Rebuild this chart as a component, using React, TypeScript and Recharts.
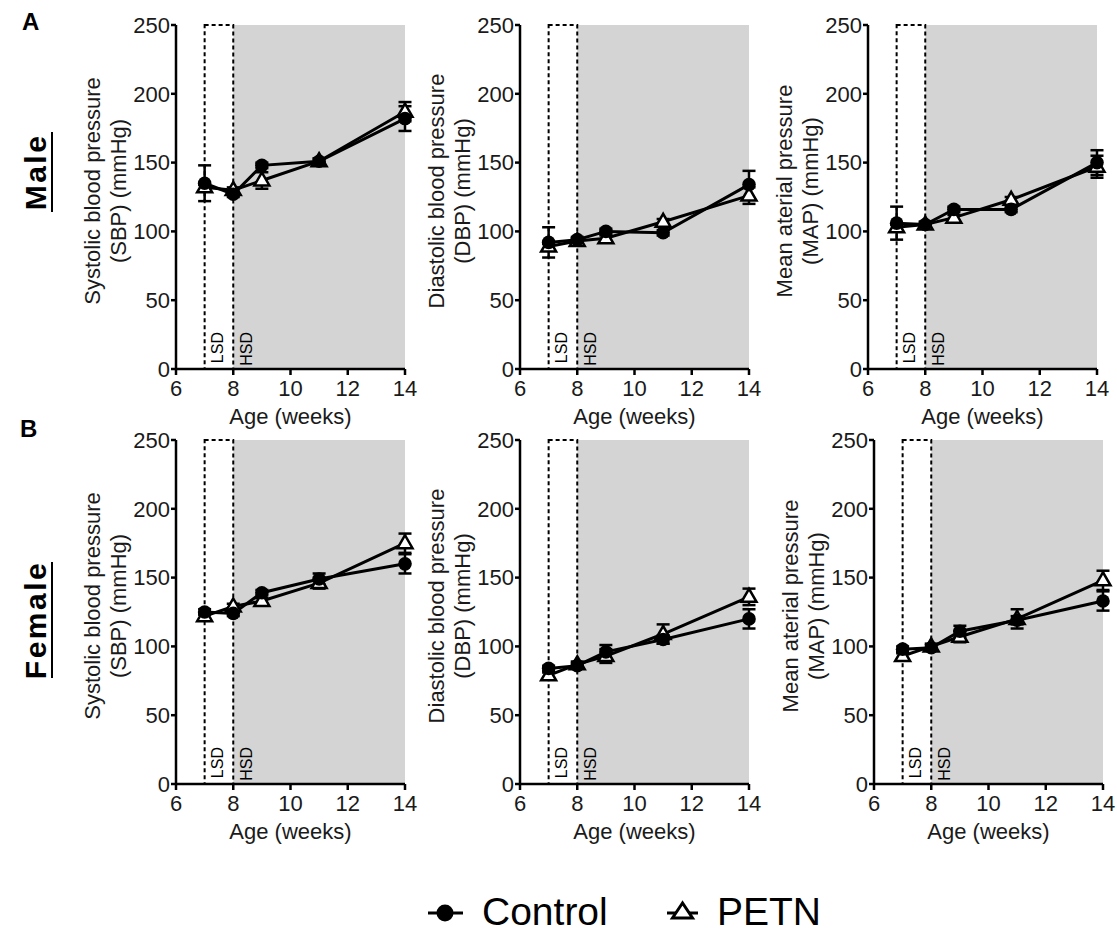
import React from "react";
import { ErrorBar, Line, LineChart, ReferenceArea, XAxis, YAxis } from "recharts";

const FONT = '"Liberation Sans", Arial, sans-serif';
const INK = "#1a1a1a";

const WEEKS = [7, 8, 9, 11, 14];
const X_TICKS = [6, 8, 10, 12, 14];
const Y_TICKS = [0, 50, 100, 150, 200, 250];

// male
const sbpMaleControl = [135, 127, 148, 151, 182];
const sbpMaleControlErr = [13, 2, 2, 2, 9];
const sbpMalePetn = [132, 130, 137, 151, 187];
const sbpMalePetnErr = [2, 2, 6, 2, 7];

const dbpMaleControl = [92, 94, 100, 99, 134];
const dbpMaleControlErr = [11, 2, 2, 2, 10];
const dbpMalePetn = [89, 93, 95, 107, 126];
const dbpMalePetnErr = [2, 2, 2, 2, 6];

const mapMaleControl = [106, 105, 116, 116, 150];
const mapMaleControlErr = [12, 2, 2, 2, 9];
const mapMalePetn = [103, 105, 110, 123, 147];
const mapMalePetnErr = [2, 2, 2, 2, 8];

// female
const sbpFemaleControl = [125, 124, 139, 149, 160];
const sbpFemaleControlErr = [2, 2, 2, 4, 7];
const sbpFemalePetn = [122, 129, 133, 146, 175];
const sbpFemalePetnErr = [2, 2, 2, 4, 7];

const dbpFemaleControl = [84, 86, 96, 105, 120];
const dbpFemaleControlErr = [2, 2, 5, 3, 7];
const dbpFemalePetn = [79, 87, 93, 109, 136];
const dbpFemalePetnErr = [2, 2, 5, 7, 6];

const mapFemaleControl = [98, 99, 111, 119, 133];
const mapFemaleControlErr = [2, 2, 4, 3, 7];
const mapFemalePetn = [93, 100, 107, 120, 148];
const mapFemalePetnErr = [2, 2, 4, 7, 7];

const SBP_LABEL = ["Systolic blood pressure", "(SBP) (mmHg)"];
const DBP_LABEL = ["Diastolic blood pressure", "(DBP) (mmHg)"];
const MAP_LABEL = ["Mean aterial pressure", "(MAP) (mmHg)"];

const PLOT_W = 229;
const PLOT_H = 344;
const AXIS_W = 120;
const PAD_TOP = 20;
const PAD_RIGHT = 20;
const XAXIS_H = 70;

const panels = [
  { id: "a1", left: 176, top: 25, label: SBP_LABEL, c: sbpMaleControl, ce: sbpMaleControlErr, p: sbpMalePetn, pe: sbpMalePetnErr },
  { id: "a2", left: 520, top: 25, label: DBP_LABEL, c: dbpMaleControl, ce: dbpMaleControlErr, p: dbpMalePetn, pe: dbpMalePetnErr },
  { id: "a3", left: 868, top: 25, label: MAP_LABEL, c: mapMaleControl, ce: mapMaleControlErr, p: mapMalePetn, pe: mapMalePetnErr },
  { id: "b1", left: 176, top: 440, label: SBP_LABEL, c: sbpFemaleControl, ce: sbpFemaleControlErr, p: sbpFemalePetn, pe: sbpFemalePetnErr },
  { id: "b2", left: 520, top: 440, label: DBP_LABEL, c: dbpFemaleControl, ce: dbpFemaleControlErr, p: dbpFemalePetn, pe: dbpFemalePetnErr },
  { id: "b3", left: 874, top: 440, label: MAP_LABEL, c: mapFemaleControl, ce: mapFemaleControlErr, p: mapFemalePetn, pe: mapFemalePetnErr },
];

function ControlDot(props: any) {
  const { cx, cy, index } = props;
  if (cx == null || cy == null) return <g key={`c${index}`} />;
  return <circle key={`c${index}`} cx={cx} cy={cy} r={6.8} fill="#000" />;
}

function PetnDot(props: any) {
  const { cx, cy, index } = props;
  if (cx == null || cy == null) return <g key={`p${index}`} />;
  const pts = `${cx},${cy - 8} ${cx - 7.5},${cy + 5} ${cx + 7.5},${cy + 5}`;
  return <polygon key={`p${index}`} points={pts} fill="#fff" stroke="#000" strokeWidth={2.5} strokeLinejoin="miter" />;
}

function AreaTag({ viewBox, text, dx }: any) {
  if (!viewBox) return null;
  const x = viewBox.x + dx;
  const y = viewBox.y + viewBox.height - 37;
  return (
    <text x={x} y={y} dy="0.35em" textAnchor="end" transform={`rotate(-90 ${x} ${y})`} fontSize={16} fill="#000" fontFamily={FONT}>
      {text}
    </text>
  );
}

function YTitle({ viewBox, lines }: any) {
  if (!viewBox) return null;
  const axisX = viewBox.x + viewBox.width;
  const cy = viewBox.y + viewBox.height / 2 - 6;
  return (
    <g fontSize={22} fill={INK} fontFamily={FONT} textAnchor="middle">
      {lines.map((ln: string, i: number) => {
        const x = axisX - 84 + i * 26;
        return (
          <text key={ln} x={x} y={cy} dy="0.35em" transform={`rotate(-90 ${x} ${cy})`}>
            {ln}
          </text>
        );
      })}
    </g>
  );
}

function XTitle({ viewBox }: any) {
  if (!viewBox) return null;
  return (
    <text x={viewBox.x + viewBox.width / 2} y={viewBox.y + 55} textAnchor="middle" fontSize={22} fill={INK} fontFamily={FONT}>
      Age (weeks)
    </text>
  );
}

function Panel({ cfg }: { cfg: (typeof panels)[number] }) {
  const data = WEEKS.map((w, i) => ({ week: w, c: cfg.c[i], ce: cfg.ce[i], p: cfg.p[i], pe: cfg.pe[i] }));
  return (
    <div style={{ position: "absolute", left: cfg.left - AXIS_W, top: cfg.top - PAD_TOP }}>
      <LineChart
        width={AXIS_W + PLOT_W + PAD_RIGHT}
        height={PAD_TOP + PLOT_H + XAXIS_H}
        data={data}
        margin={{ top: PAD_TOP, right: PAD_RIGHT, left: 0, bottom: 0 }}
      >
        <XAxis
          type="number"
          dataKey="week"
          domain={[6, 14]}
          ticks={X_TICKS}
          height={XAXIS_H}
          axisLine={{ stroke: "#000", strokeWidth: 2.5 }}
          tickLine={{ stroke: "#000", strokeWidth: 2.5 }}
          tickSize={6}
          tickMargin={5}
          tick={{ fontSize: 22, fill: INK, fontFamily: FONT }}
          label={<XTitle />}
        />
        <YAxis
          type="number"
          domain={[0, 250]}
          ticks={Y_TICKS}
          width={AXIS_W}
          axisLine={{ stroke: "#000", strokeWidth: 2.5 }}
          tickLine={{ stroke: "#000", strokeWidth: 2.5 }}
          tickSize={5}
          tickMargin={1}
          tick={{ fontSize: 22, fill: INK, fontFamily: FONT }}
          label={<YTitle lines={cfg.label} />}
        />
        <ReferenceArea x1={8} x2={14} y1={0} y2={250} fill="#d4d4d4" fillOpacity={1} stroke="none" label={<AreaTag text="HSD" dx={13} />} />
        <ReferenceArea
          x1={7}
          x2={8}
          y1={0}
          y2={250}
          fill="none"
          stroke="#000"
          strokeWidth={2}
          strokeDasharray="4 3"
          label={<AreaTag text="LSD" dx={13} />}
        />
        <Line dataKey="p" stroke="#000" strokeWidth={3} type="linear" dot={PetnDot} activeDot={false} isAnimationActive={false}>
          <ErrorBar dataKey="pe" direction="y" width={6.5} strokeWidth={2.5} stroke="#000" />
        </Line>
        <Line dataKey="c" stroke="#000" strokeWidth={3} type="linear" dot={ControlDot} activeDot={false} isAnimationActive={false}>
          <ErrorBar dataKey="ce" direction="y" width={6.5} strokeWidth={2.5} stroke="#000" />
        </Line>
      </LineChart>
    </div>
  );
}

function Overlay() {
  return (
    <svg width={1117} height={933} style={{ position: "absolute", left: 0, top: 0, pointerEvents: "none" }} fontFamily={FONT}>
      <text x={22} y={30} fontSize={24} fontWeight="bold" fill="#000">A</text>
      <text x={20} y={437} fontSize={24} fontWeight="bold" fill="#000">B</text>

      <text x={35} y={172} dy="0.35em" textAnchor="middle" transform="rotate(-90 35 172)" fontSize={30} fontWeight="bold" letterSpacing={2.5} fill="#000">
        Male
      </text>
      <line x1={52} y1={132} x2={52} y2={212} stroke="#000" strokeWidth={2} />
      <text x={35} y={620} dy="0.35em" textAnchor="middle" transform="rotate(-90 35 620)" fontSize={30} fontWeight="bold" letterSpacing={2.5} fill="#000">
        Female
      </text>
      <line x1={52} y1={562} x2={52} y2={678} stroke="#000" strokeWidth={2} />

      <g>
        <line x1={428} y1={913} x2={463} y2={913} stroke="#000" strokeWidth={3} />
        <circle cx={445} cy={913} r={8.5} fill="#000" />
        <text x={482} y={925} fontSize={39} fill="#000">Control</text>
        <line x1={667} y1={913} x2={698} y2={913} stroke="#000" strokeWidth={3} />
        <polygon points="682.5,903 672.5,918 692.5,918" fill="#fff" stroke="#000" strokeWidth={3} />
        <text x={717} y={925} fontSize={39} fill="#000">PETN</text>
      </g>
    </svg>
  );
}

export default function App() {
  return (
    <div style={{ position: "absolute", left: 0, top: 0, width: 1117, height: 933, background: "#fff", fontFamily: FONT }}>
      {panels.map((cfg) => (
        <Panel key={cfg.id} cfg={cfg} />
      ))}
      <Overlay />
    </div>
  );
}
